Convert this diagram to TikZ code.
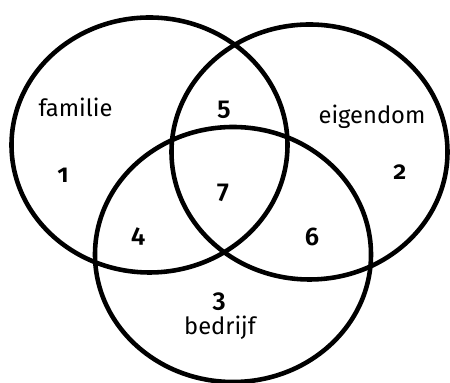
\documentclass[tikz,border=0pt]{standalone}
\usepackage{fontspec}
\setmainfont{Fira Sans}[BoldFont=Fira Sans SemiBold,Numbers=OldStyle]
\usetikzlibrary{shapes.geometric}

\begin{document}
\begin{tikzpicture}[font=\fontsize{13.5}{16}\selectfont,
  ring/.style={ellipse,draw,line width=2.6pt,minimum width=5.52cm,minimum height=5.10cm,inner sep=0pt},
  num/.style={font=\fontsize{14.5}{16}\selectfont\bfseries,inner sep=0pt},
  lab/.style={anchor=base,inner sep=0pt}]
\useasboundingbox (0,0) rectangle (9,-7.66);
% --- the three sets ---
\node[ring] (fam) at (2.99,-2.90) {};
\node[ring] (eig) at (6.19,-3.04) {};
\node[ring] (bed) at (4.66,-5.09) {};
% --- set names ---
\node[lab] (lfam) at (1.51,-2.34) {familie};
\node[lab] (leig) at (7.44,-2.48) {eigendom};
\node[lab] (lbed) at (4.40,-6.70) {bedrijf};
% --- regions ---
\node[num] (r1) at (1.26,-3.50) {1};
\node[num] (r2) at (8.00,-3.44) {2};
\node[num] (r3) at (4.38,-6.04) {3};
\node[num] (r4) at (2.76,-4.74) {4};
\node[num] (r5) at (4.48,-2.20) {5};
\node[num] (r6) at (6.24,-4.74) {6};
\node[num] (r7) at (4.46,-3.86) {7};
\end{tikzpicture}
\end{document}
